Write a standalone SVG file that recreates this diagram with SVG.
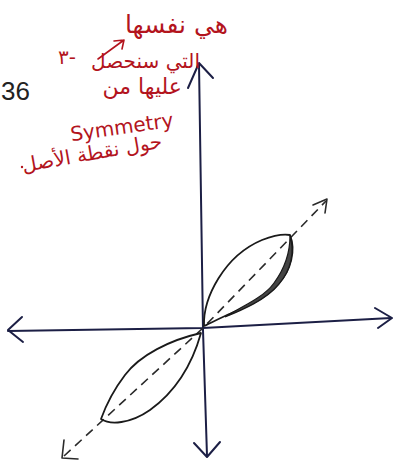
<svg xmlns="http://www.w3.org/2000/svg" width="393" height="464" viewBox="0 0 393 464">
<style>
.ax{fill:none;stroke:#1c1f45;stroke-width:2;stroke-linecap:round;stroke-linejoin:round}
.lobe{fill:none;stroke:#1a1a1a;stroke-width:1.8;stroke-linejoin:round}
.dash{fill:none;stroke:#2a2a2a;stroke-width:1.6;stroke-dasharray:9 6}
.ah{fill:none;stroke:#2a2a2a;stroke-width:1.6;stroke-linecap:round;stroke-linejoin:round}
.red{fill:#b3141d;font-family:"DejaVu Sans",sans-serif}
.redl{fill:none;stroke:#b3141d;stroke-width:1.6;stroke-linecap:round;stroke-linejoin:round}
</style>
<rect width="393" height="464" fill="#ffffff"/>
<g id="note-number">
<text x="1" y="100" font-family="Liberation Sans, sans-serif" font-size="26" fill="#222">36</text>
</g>
<g id="axes">
<path class="ax" d="M199,64 L203,330 L207,456"/>
<path class="ax" d="M188,88 L199,63 L213,78"/>
<path class="ax" d="M194,443 L207,457 L220,442"/>
<path class="ax" d="M8,331 L203,328 L391,318"/>
<path class="ax" d="M22,317 L8,330 L23,342"/>
<path class="ax" d="M375,308 L392,318 L378,328"/>
</g>
<g id="connectors">
<path class="dash" d="M64,456 L203,328 L326,201"/>
<path class="ah" d="M313,205 L327,199 L325,213"/>
<path class="ah" d="M64,440 L62,458 L78,459"/>
</g>
<g id="upper-lobe">
<path class="lobe" d="M204,326 C203,298 224,256 262,240 C275,235 285,234 290,235 C296,250 291,270 279,283 C266,300 241,309 225,316 C214,321 207,325 204,326 Z"/>
<path d="M290,236 C295,252 291,270 279,284 C266,300 242,310 225,317 C232,311 262,300 274,283 C285,268 290,252 290,236 Z" fill="#444" stroke="#1a1a1a" stroke-width="1.2"/>
</g>
<g id="lower-lobe">
<path class="lobe" d="M201,333 C170,340 140,355 125,375 C112,392 105,408 101,419 C110,425 130,424 150,410 C175,392 192,365 201,333 Z"/>
</g>
<g id="annotation">
<text class="red" x="228" y="33" font-size="25" text-anchor="end">هي نفسها</text>
<text class="red" x="58" y="64" font-size="20" direction="ltr" unicode-bidi="bidi-override">٣-</text>
<path class="redl" d="M98,59 L124,40 M114,41 L124,40 L122,49"/>
<text class="red" x="200" y="68" font-size="20" text-anchor="end">التي سنحصل</text>
<text class="red" x="182" y="94" font-size="22" text-anchor="end">عليها من</text>
<text class="red" x="122" y="134" font-size="20" text-anchor="middle" transform="rotate(-8 122 128)">Symmetry</text>
<text class="red" x="92" y="160" font-size="20" text-anchor="middle" transform="rotate(-10 92 153)">حول نقطة الأصل</text>
<circle cx="22" cy="167" r="1.2" fill="#b3141d"/>
</g>
</svg>
